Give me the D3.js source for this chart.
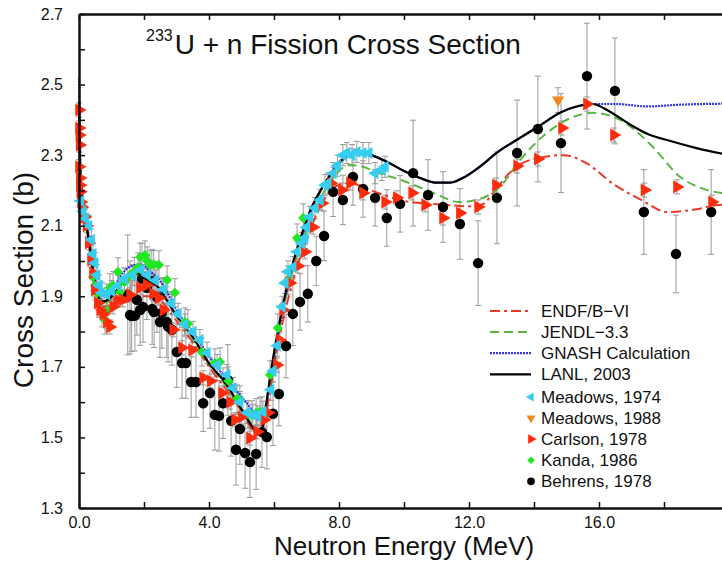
<!DOCTYPE html>
<html>
<head>
<meta charset="utf-8">
<script src="https://cdn.jsdelivr.net/npm/d3@7"></script>
<style>
  body { margin: 0; background: #fff; }
  text { font-family: Arial, "Liberation Sans", sans-serif; fill: #111; }
</style>
</head>
<body>
<svg width="722" height="563"></svg>
<script>
// ---- evaluated / calculated curves: [E (MeV), sigma (b)]
const endfCurve = [
  [0, 2.40], [0.05, 2.24], [0.15, 2.15], [0.3, 2.05], [0.45, 1.95], [0.6, 1.89], [0.8, 1.87],
  [1.0, 1.875], [1.5, 1.885], [1.9, 1.90], [2.3, 1.90], [3.0, 1.83], [3.5, 1.77], [4.0, 1.70],
  [4.5, 1.64], [5.0, 1.575], [5.4, 1.52], [5.6, 1.52], [5.8, 1.59], [6.0, 1.70], [6.3, 1.84],
  [6.6, 1.95], [7.0, 2.06], [7.4, 2.15], [7.8, 2.205], [8.2, 2.22], [8.6, 2.215], [9.0, 2.20],
  [9.6, 2.18], [10.2, 2.167], [10.8, 2.162], [11.4, 2.158], [12.0, 2.155], [12.4, 2.16],
  [12.8, 2.20], [13.2, 2.245], [13.6, 2.275], [14.2, 2.293], [14.9, 2.30], [15.6, 2.278],
  [16.4, 2.221], [17.3, 2.173], [18.1, 2.139], [18.9, 2.145], [19.7, 2.159], [20, 2.16]
];
const jendlCurve = [
  [0, 2.42], [0.05, 2.25], [0.15, 2.15], [0.3, 2.06], [0.45, 1.96], [0.6, 1.895], [0.8, 1.88],
  [1.0, 1.895], [1.4, 1.935], [1.8, 1.96], [2.2, 1.95], [2.6, 1.91], [3.0, 1.845], [3.5, 1.78],
  [4.0, 1.71], [4.5, 1.65], [5.0, 1.58], [5.3, 1.54], [5.5, 1.515], [5.65, 1.535], [5.8, 1.62],
  [6.0, 1.73], [6.2, 1.83], [6.5, 1.95], [6.8, 2.04], [7.1, 2.11], [7.5, 2.19], [8.0, 2.255],
  [8.3, 2.272], [8.7, 2.268], [9.2, 2.25], [9.9, 2.23], [10.9, 2.193], [11.7, 2.167],
  [12.4, 2.178], [12.95, 2.21], [13.57, 2.286], [14.4, 2.363], [15.2, 2.408], [15.8, 2.42],
  [16.65, 2.40], [17.66, 2.323], [18.5, 2.238], [19.2, 2.205], [20, 2.19]
];
const gnashCurve = [
  [0, 2.52], [0.05, 2.25], [0.15, 2.15], [0.3, 2.06], [0.45, 1.97], [0.6, 1.90], [0.8, 1.885],
  [1.0, 1.91], [1.3, 1.96], [1.6, 1.985], [1.9, 1.99], [2.2, 1.97], [2.6, 1.93], [3.0, 1.86],
  [3.5, 1.80], [4.0, 1.73], [4.5, 1.67], [5.0, 1.615], [5.3, 1.58], [5.5, 1.55], [5.7, 1.57],
  [5.9, 1.66], [6.1, 1.77], [6.3, 1.87], [6.6, 1.99], [6.9, 2.08], [7.2, 2.155], [7.6, 2.225],
  [8.0, 2.275], [8.3, 2.30], [8.65, 2.31], [9.0, 2.30], [9.5, 2.28], [10.0, 2.255],
  [10.5, 2.235], [11.0, 2.222], [11.4, 2.222], [11.8, 2.235], [12.3, 2.265], [12.9, 2.31],
  [13.5, 2.345], [14.2, 2.385], [14.8, 2.42], [15.4, 2.44], [15.8, 2.445], [16.5, 2.445],
  [17.5, 2.438], [18.5, 2.443], [20, 2.446]
];
const lanlCurve = [
  [0, 2.45], [0.03, 2.28], [0.08, 2.20], [0.15, 2.15], [0.25, 2.09], [0.35, 2.03], [0.45, 1.96],
  [0.55, 1.91], [0.7, 1.885], [0.9, 1.89], [1.1, 1.91], [1.4, 1.945], [1.7, 1.965], [2.0, 1.965],
  [2.4, 1.93], [3.0, 1.845], [3.5, 1.785], [4.0, 1.71], [4.5, 1.655], [5.0, 1.58], [5.3, 1.535],
  [5.5, 1.51], [5.65, 1.53], [5.8, 1.62], [6.0, 1.74], [6.2, 1.84], [6.5, 1.965], [6.8, 2.06],
  [7.1, 2.14], [7.4, 2.195], [7.7, 2.24], [8.0, 2.28], [8.3, 2.30], [8.65, 2.31], [9.0, 2.30],
  [9.5, 2.28], [10.0, 2.255], [10.5, 2.235], [11.0, 2.222], [11.4, 2.222], [11.8, 2.235],
  [12.3, 2.265], [12.9, 2.31], [13.5, 2.345], [14.2, 2.385], [14.8, 2.42], [15.4, 2.44],
  [15.8, 2.445], [16.3, 2.425], [16.9, 2.39], [17.5, 2.36], [18.2, 2.34], [19.0, 2.32], [20, 2.30]
];

// ---- measurements: [E (MeV), sigma (b), error (b)]
const meadows1974 = [
  [0.05, 2.17], [0.12, 2.14], [0.2, 2.12], [0.3, 2.10], [0.38, 2.06], [0.43, 2.02], [0.49, 1.994],
  [0.55, 1.96], [0.62, 1.93], [0.7, 1.91], [0.85, 1.905], [1.0, 1.915], [1.2, 1.93], [1.4, 1.95],
  [1.65, 1.96], [1.9, 1.975], [2.1, 1.96], [2.35, 1.945], [2.6, 1.92], [2.85, 1.88], [3.05, 1.85],
  [3.26, 1.82], [3.51, 1.799], [3.72, 1.776], [3.94, 1.74], [4.25, 1.705], [4.55, 1.677],
  [4.74, 1.64], [4.95, 1.60], [5.17, 1.57], [5.35, 1.564], [5.5, 1.56], [5.66, 1.573], [5.9, 1.635],
  [5.97, 1.688], [6.1, 1.76], [6.25, 1.87], [6.34, 1.938], [6.43, 1.97], [6.58, 1.983],
  [6.71, 2.026], [6.85, 2.05], [6.95, 2.065], [7.0, 2.096], [7.1, 2.125], [7.26, 2.15],
  [7.42, 2.173], [7.57, 2.215], [7.66, 2.22], [7.82, 2.249], [7.95, 2.27], [8.12, 2.30],
  [8.24, 2.306], [8.4, 2.30], [8.55, 2.309], [8.74, 2.306], [8.92, 2.306], [9.11, 2.249],
  [9.32, 2.258], [9.42, 2.267]
].map(d => [d[0], d[1], 0.03]);
const meadows1988 = [[14.74, 2.456, 0.035]];
const carlson1978 = [
  [0.0, 2.428], [0.0, 2.377], [0.01, 2.357], [0.02, 2.329], [0.0, 2.267], [0.03, 2.235],
  [0.03, 2.215], [0.04, 2.196], [0.06, 2.167], [0.09, 2.153], [0.12, 2.13], [0.18, 2.125],
  [0.24, 2.10], [0.3, 2.051], [0.37, 2.003], [0.43, 1.966], [0.49, 1.918], [0.58, 1.881],
  [0.65, 1.861], [0.75, 1.85], [0.86, 1.827], [0.95, 1.813], [1.05, 1.87], [1.17, 1.89],
  [1.35, 1.89], [1.57, 1.904], [1.88, 1.924], [2.09, 1.932], [2.28, 1.907], [2.45, 1.895],
  [2.6, 1.861], [2.9, 1.805], [3.17, 1.754], [3.48, 1.748], [3.82, 1.669], [4.05, 1.66],
  [4.4, 1.626], [4.65, 1.60], [4.8, 1.55], [5.0, 1.558], [5.26, 1.498], [5.48, 1.516],
  [5.7, 1.55], [5.82, 1.57], [6.09, 1.705], [6.18, 1.776], [6.28, 1.861], [6.49, 1.938],
  [6.74, 1.986], [6.95, 2.026], [7.2, 2.096], [7.48, 2.164], [7.75, 2.22], [8.09, 2.201],
  [8.34, 2.221], [8.74, 2.193], [9.42, 2.167], [9.78, 2.179], [10.25, 2.193], [10.65, 2.159],
  [11.2, 2.122], [11.72, 2.136], [12.28, 2.153], [12.83, 2.215], [13.48, 2.269], [14.12, 2.289],
  [14.86, 2.377], [15.63, 2.445], [16.46, 2.357], [17.4, 2.201], [18.4, 2.21], [19.48, 2.167]
].map(d => [d[0], d[1], 0.02]);
const kanda1986 = [
  [0.43, 1.955], [0.49, 1.93], [0.55, 1.909], [0.62, 1.88], [0.71, 1.853], [0.8, 1.833],
  [0.88, 1.86], [0.95, 1.924], [1.05, 1.93], [1.2, 1.969], [1.26, 1.912], [1.4, 1.94],
  [1.57, 1.96], [1.7, 1.97], [1.82, 1.983], [1.88, 2.011], [2.03, 2.017], [2.1, 2.0],
  [2.18, 1.989], [2.3, 1.99], [2.46, 1.989], [2.71, 1.946], [2.95, 1.91], [3.26, 1.827],
  [3.35, 1.822], [3.78, 1.742], [4.18, 1.711], [4.34, 1.714], [4.6, 1.66], [4.86, 1.609],
  [4.95, 1.606], [5.2, 1.565], [5.32, 1.564], [5.45, 1.57], [5.57, 1.573], [5.88, 1.677],
  [6.12, 1.81], [6.43, 1.946], [6.71, 2.065], [6.9, 2.122]
].map(d => [d[0], d[1], 0.04]);
const behrens1978 = [
  [1.50, 1.904, 0.17], [1.57, 1.847, 0.11], [1.62, 1.844, 0.10], [1.72, 1.845, 0.10],
  [1.78, 1.89, 0.10], [1.88, 1.861, 0.10], [1.94, 1.95, 0.10], [1.97, 1.87, 0.10],
  [2.09, 1.924, 0.09], [2.24, 1.943, 0.09], [2.25, 1.864, 0.10], [2.31, 1.855, 0.10],
  [2.40, 1.898, 0.10], [2.49, 1.827, 0.10], [2.55, 1.853, 0.10], [2.70, 1.827, 0.10],
  [2.74, 1.814, 0.10], [2.86, 1.805, 0.10], [3.01, 1.742, 0.10], [3.17, 1.711, 0.10],
  [3.29, 1.711, 0.10], [3.45, 1.657, 0.10], [3.60, 1.657, 0.10], [3.82, 1.597, 0.08],
  [4.03, 1.626, 0.10], [4.18, 1.564, 0.10], [4.31, 1.561, 0.10], [4.43, 1.597, 0.10],
  [4.58, 1.663, 0.10], [4.68, 1.547, 0.10], [4.83, 1.465, 0.10], [4.95, 1.524, 0.10],
  [5.11, 1.456, 0.10], [5.26, 1.43, 0.10], [5.45, 1.453, 0.10], [5.63, 1.515, 0.10],
  [5.78, 1.501, 0.09], [5.97, 1.567, 0.09], [6.15, 1.623, 0.09], [6.37, 1.759, 0.09],
  [6.58, 1.85, 0.09], [6.80, 1.884, 0.08], [7.04, 1.907, 0.08], [7.30, 2.0, 0.07],
  [7.54, 2.071, 0.07], [7.82, 2.196, 0.07], [8.12, 2.173, 0.07], [8.43, 2.238, 0.08],
  [8.74, 2.204, 0.08], [9.11, 2.179, 0.08], [9.47, 2.122, 0.08], [9.88, 2.162, 0.08],
  [10.28, 2.249, 0.15], [10.74, 2.187, 0.10], [11.20, 2.153, 0.10], [11.72, 2.105, 0.10],
  [12.28, 1.994, 0.12], [12.86, 2.179, 0.13], [13.48, 2.306, 0.15], [14.12, 2.374, 0.15],
  [14.83, 2.334, 0.14], [15.63, 2.524, 0.15], [16.49, 2.482, 0.15], [17.38, 2.139, 0.12],
  [18.37, 2.02, 0.11], [19.45, 2.139, 0.12]
];

// ---- axis ticks
const xMajor = [0, 4, 8, 12, 16, 20];
const xMinor = [2, 6, 10, 14, 18];
const yMajor = [1.3, 1.5, 1.7, 1.9, 2.1, 2.3, 2.5, 2.7];
const yMinor = [1.4, 1.6, 1.8, 2.0, 2.2, 2.4, 2.6];

const svg = d3.select('svg');
const x = d3.scaleLinear().domain([0, 20]).range([79, 729]);
const y = d3.scaleLinear().domain([1.3, 2.7]).range([508, 14]);

// error bars
const barsG = svg.append('g');
const drawBars = (data) => {
  const g = barsG.append('g').attr('stroke', '#9a9a9a').attr('stroke-width', 1);
  data.forEach(d => {
    const xp = x(d[0]), y0 = y(d[1] - d[2]), y1 = y(d[1] + d[2]);
    g.append('line').attr('x1', xp).attr('x2', xp).attr('y1', y0).attr('y2', y1);
    g.append('line').attr('x1', xp - 3).attr('x2', xp + 3).attr('y1', y0).attr('y2', y0);
    g.append('line').attr('x1', xp - 3).attr('x2', xp + 3).attr('y1', y1).attr('y2', y1);
  });
};
[behrens1978, kanda1986, carlson1978, meadows1974, meadows1988].forEach(drawBars);

// curves
const line = d3.line().x(d => x(d[0])).y(d => y(d[1])).curve(d3.curveMonotoneX);
const curves = [
  { data: gnashCurve, color: '#3434e6', dash: '2,1', width: 2.2 },
  { data: endfCurve, color: '#ea3a26', dash: '10,4,3,4', width: 2 },
  { data: jendlCurve, color: '#5bb544', dash: '9,5', width: 2 },
  { data: lanlCurve, color: '#000', dash: null, width: 2.2 }
];
curves.forEach(c => {
  svg.append('path')
    .datum(c.data)
    .attr('d', line)
    .attr('fill', 'none')
    .attr('stroke', c.color)
    .attr('stroke-width', c.width)
    .attr('stroke-dasharray', c.dash);
});

// markers
const series = [
  { data: behrens1978, label: 'Behrens, 1978', type: d3.symbolCircle, rot: 0, size: 85, fill: '#000' },
  { data: kanda1986, label: 'Kanda, 1986', type: d3.symbolSquare, rot: 45, size: 52, fill: '#1ee81e' },
  { data: carlson1978, label: 'Carlson, 1978', type: d3.symbolTriangle, rot: 90, size: 74, fill: '#ff2c0c' },
  { data: meadows1974, label: 'Meadows, 1974', type: d3.symbolTriangle, rot: -90, size: 64, fill: '#36cdf0' },
  { data: meadows1988, label: 'Meadows, 1988', type: d3.symbolTriangle, rot: 180, size: 64, fill: '#f2891e' }
];
series.forEach(s => {
  svg.append('g').selectAll('path')
    .data(s.data)
    .join('path')
    .attr('d', d3.symbol().type(s.type).size(s.size))
    .attr('transform', d => `translate(${x(d[0])},${y(d[1])}) rotate(${s.rot})`)
    .attr('fill', s.fill);
});

// axes
const axesG = svg.append('g');
const styleAxis = g => {
  g.selectAll('.domain').attr('stroke', '#111').attr('stroke-width', 2.5);
  g.selectAll('.tick line').attr('stroke', '#111').attr('stroke-width', 1.5);
  g.selectAll('.tick text').attr('font-size', 16).attr('fill', '#111')
    .attr('font-family', 'Arial, "Liberation Sans", sans-serif');
};
axesG.append('g').attr('transform', `translate(0,${y(1.3)})`)
  .call(d3.axisBottom(x).tickValues(xMajor).tickFormat(d3.format('.1f'))
    .tickSize(-6).tickSizeOuter(0).tickPadding(9))
  .call(g => g.selectAll('.tick').filter(d => d === 20).select('text').remove())
  .call(styleAxis);
axesG.append('g').attr('transform', `translate(0,${y(1.3)})`)
  .call(d3.axisBottom(x).tickValues(xMinor).tickFormat('').tickSize(-6))
  .call(g => g.select('.domain').remove()).call(styleAxis);
axesG.append('g').attr('transform', `translate(0,${y(2.7)})`)
  .call(d3.axisTop(x).tickValues(xMajor.concat(xMinor)).tickFormat('').tickSize(-6).tickSizeOuter(0))
  .call(styleAxis);
axesG.append('g').attr('transform', `translate(${x(0)},0)`)
  .call(d3.axisLeft(y).tickValues(yMajor).tickFormat(d3.format('.1f'))
    .tickSize(-6).tickSizeOuter(0).tickPadding(16))
  .call(styleAxis);
axesG.append('g').attr('transform', `translate(${x(0)},0)`)
  .call(d3.axisLeft(y).tickValues(yMinor).tickFormat('').tickSize(-6))
  .call(g => g.select('.domain').remove()).call(styleAxis);

// axis titles
svg.append('text')
  .attr('x', 404).attr('y', 555)
  .attr('text-anchor', 'middle')
  .attr('font-size', 26)
  .text('Neutron Energy (MeV)');
svg.append('text')
  .attr('transform', 'translate(33,280) rotate(-90)')
  .attr('text-anchor', 'middle')
  .attr('font-size', 28)
  .text('Cross Section (b)');

// plot title
const title = svg.append('text').attr('x', 146).attr('y', 54);
title.append('tspan').attr('font-size', 16).attr('dy', -13).text('233');
title.append('tspan').attr('font-size', 28).attr('dx', 2).attr('dy', 13).text('U + n Fission Cross Section');

// legend
const legendG = svg.append('g').attr('transform', 'translate(490,311)');
const rowH = 21.1;
const legendCurves = [
  { curve: curves[1], label: 'ENDF/B\u2212VI' },
  { curve: curves[2], label: 'JENDL\u22123.3' },
  { curve: curves[0], label: 'GNASH Calculation' },
  { curve: curves[3], label: 'LANL, 2003' }
];
legendCurves.forEach((l, i) => {
  legendG.append('line')
    .attr('x1', 0).attr('x2', 41).attr('y1', i * rowH).attr('y2', i * rowH)
    .attr('stroke', l.curve.color).attr('stroke-width', l.curve.width)
    .attr('stroke-dasharray', l.curve.dash);
  legendG.append('text').attr('x', 51).attr('y', i * rowH).attr('dy', '0.35em')
    .attr('font-size', 17).text(l.label);
});
const legendOrder = ['Meadows, 1974', 'Meadows, 1988', 'Carlson, 1978', 'Kanda, 1986', 'Behrens, 1978'];
legendOrder.forEach((lab, i) => {
  const s = series.find(d => d.label === lab);
  const yy = (i + 4) * rowH + 1.5;
  legendG.append('path')
    .attr('d', d3.symbol().type(s.type).size(s.size * 0.55))
    .attr('transform', `translate(41,${yy}) rotate(${s.rot})`)
    .attr('fill', s.fill);
  legendG.append('text').attr('x', 51).attr('y', yy).attr('dy', '0.35em')
    .attr('font-size', 17).text(lab);
});
</script>
</body>
</html>
